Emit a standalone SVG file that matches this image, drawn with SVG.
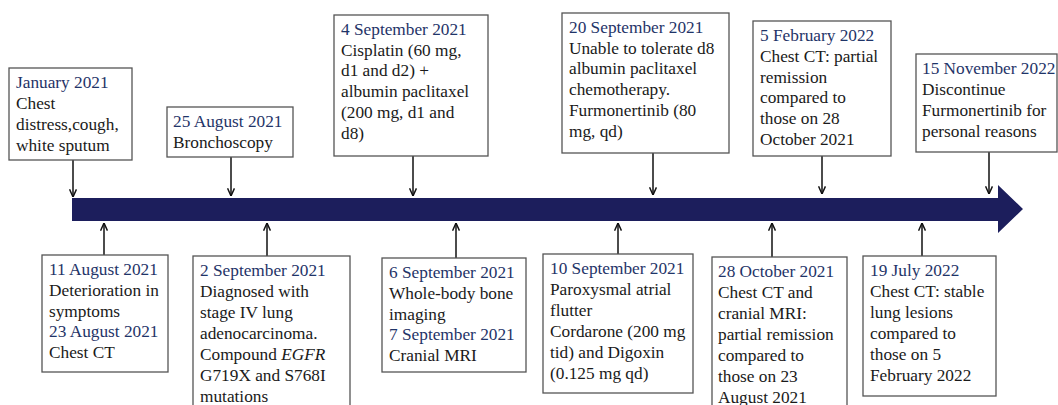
<svg xmlns="http://www.w3.org/2000/svg" width="1058" height="405" viewBox="0 0 1058 405">
<defs>
<marker id="ah" viewBox="0 0 10 10" refX="9.5" refY="5" markerWidth="9" markerHeight="9" markerUnits="userSpaceOnUse" orient="auto">
<path d="M1,1.2 L9.5,5 L1,8.8" fill="none" stroke="#111" stroke-width="1.6"/>
</marker>
<style>
.box{fill:#fff;stroke:#555;stroke-width:1.3}
text{font-family:"Liberation Serif","Times New Roman",serif;font-size:17.3px;fill:#1a1a1a}
.d{fill:#1f3468}
.c{stroke:#111;stroke-width:1.5;fill:none;marker-end:url(#ah)}
</style>
</defs>
<rect width="1058" height="405" fill="#fff"/>
<polygon id="timeline" points="72,198 998,198 998,185 1023,209 998,233 998,221 72,221" fill="#1c1e5c"/>
<g id="connectors">
<line class="c" x1="73" y1="160" x2="73" y2="197"/>
<line class="c" x1="231" y1="157" x2="231" y2="196"/>
<line class="c" x1="413" y1="156" x2="413" y2="196"/>
<line class="c" x1="653" y1="153" x2="653" y2="195"/>
<line class="c" x1="822" y1="156" x2="822" y2="194"/>
<line class="c" x1="989" y1="152" x2="989" y2="194"/>
<line class="c" x1="104" y1="255" x2="104" y2="223"/>
<line class="c" x1="267" y1="256" x2="267" y2="223"/>
<line class="c" x1="456" y1="258" x2="456" y2="223"/>
<line class="c" x1="618" y1="254" x2="618" y2="223"/>
<line class="c" x1="772" y1="257" x2="772" y2="223"/>
<line class="c" x1="922" y1="256" x2="922" y2="223"/>
</g>
<g id="n1"><rect class="box" x="9" y="68" width="123" height="92"/>
<text x="16" y="88"><tspan class="d">January 2021</tspan><tspan x="16" dy="21">Chest</tspan><tspan x="16" dy="21">distress,cough,</tspan><tspan x="16" dy="21">white sputum</tspan></text></g>
<g id="n2"><rect class="box" x="167" y="107" width="126" height="50"/>
<text x="173" y="127"><tspan class="d">25 August 2021</tspan><tspan x="173" dy="21">Bronchoscopy</tspan></text></g>
<g id="n3"><rect class="box" x="334" y="15" width="154" height="141"/>
<text x="341" y="35"><tspan class="d">4 September 2021</tspan><tspan x="341" dy="20.7">Cisplatin (60 mg,</tspan><tspan x="341" dy="20.7">d1 and d2) +</tspan><tspan x="341" dy="20.7">albumin paclitaxel</tspan><tspan x="341" dy="20.7">(200 mg, d1 and</tspan><tspan x="341" dy="20.7">d8)</tspan></text></g>
<g id="n4"><rect class="box" x="562" y="13" width="167" height="140"/>
<text x="569" y="33"><tspan class="d">20 September 2021</tspan><tspan x="569" dy="20.7">Unable to tolerate d8</tspan><tspan x="569" dy="20.7">albumin paclitaxel</tspan><tspan x="569" dy="20.7">chemotherapy.</tspan><tspan x="569" dy="20.7">Furmonertinib (80</tspan><tspan x="569" dy="20.7">mg, qd)</tspan></text></g>
<g id="n5"><rect class="box" x="753" y="21" width="138" height="135"/>
<text x="760" y="41"><tspan class="d">5 February 2022</tspan><tspan x="760" dy="20.8">Chest CT: partial</tspan><tspan x="760" dy="20.8">remission</tspan><tspan x="760" dy="20.8">compared to</tspan><tspan x="760" dy="20.8">those on 28</tspan><tspan x="760" dy="20.8">October 2021</tspan></text></g>
<g id="n6"><rect class="box" x="916" y="54" width="141" height="98"/>
<text x="922" y="74"><tspan class="d">15 November 2022</tspan><tspan x="922" dy="21">Discontinue</tspan><tspan x="922" dy="21">Furmonertinib for</tspan><tspan x="922" dy="21">personal reasons</tspan></text></g>
<g id="n7"><rect class="box" x="42" y="255" width="126" height="117"/>
<text x="49" y="275"><tspan class="d">11 August 2021</tspan><tspan x="49" dy="20.8">Deterioration in</tspan><tspan x="49" dy="20.8">symptoms</tspan><tspan class="d" x="49" dy="20.8">23 August 2021</tspan><tspan x="49" dy="20.8">Chest CT</tspan></text></g>
<g id="n8"><rect class="box" x="193" y="256" width="157" height="160"/>
<text x="200" y="276"><tspan class="d">2 September 2021</tspan><tspan x="200" dy="21">Diagnosed with</tspan><tspan x="200" dy="21">stage IV lung</tspan><tspan x="200" dy="21">adenocarcinoma.</tspan><tspan x="200" dy="21">Compound <tspan font-style="italic">EGFR</tspan></tspan><tspan x="200" dy="21">G719X and S768I</tspan><tspan x="200" dy="21">mutations</tspan></text></g>
<g id="n9"><rect class="box" x="382" y="258" width="144" height="114"/>
<text x="389" y="278"><tspan class="d">6 September 2021</tspan><tspan x="389" dy="20.8">Whole-body bone</tspan><tspan x="389" dy="20.8">imaging</tspan><tspan class="d" x="389" dy="20.8">7 September 2021</tspan><tspan x="389" dy="20.8">Cranial MRI</tspan></text></g>
<g id="n10"><rect class="box" x="543" y="254" width="150" height="139"/>
<text x="550" y="274"><tspan class="d">10 September 2021</tspan><tspan x="550" dy="21">Paroxysmal atrial</tspan><tspan x="550" dy="21">flutter</tspan><tspan x="550" dy="21">Cordarone (200 mg</tspan><tspan x="550" dy="21">tid) and Digoxin</tspan><tspan x="550" dy="21">(0.125 mg qd)</tspan></text></g>
<g id="n11"><rect class="box" x="712" y="257" width="135" height="160"/>
<text x="718" y="277"><tspan class="d">28 October 2021</tspan><tspan x="718" dy="21">Chest CT and</tspan><tspan x="718" dy="21">cranial MRI:</tspan><tspan x="718" dy="21">partial remission</tspan><tspan x="718" dy="21">compared to</tspan><tspan x="718" dy="21">those on 23</tspan><tspan x="718" dy="21">August 2021</tspan></text></g>
<g id="n12"><rect class="box" x="863" y="256" width="133" height="140"/>
<text x="870" y="276"><tspan class="d">19 July 2022</tspan><tspan x="870" dy="21">Chest CT: stable</tspan><tspan x="870" dy="21">lung lesions</tspan><tspan x="870" dy="21">compared to</tspan><tspan x="870" dy="21">those on 5</tspan><tspan x="870" dy="21">February 2022</tspan></text></g>
</svg>
